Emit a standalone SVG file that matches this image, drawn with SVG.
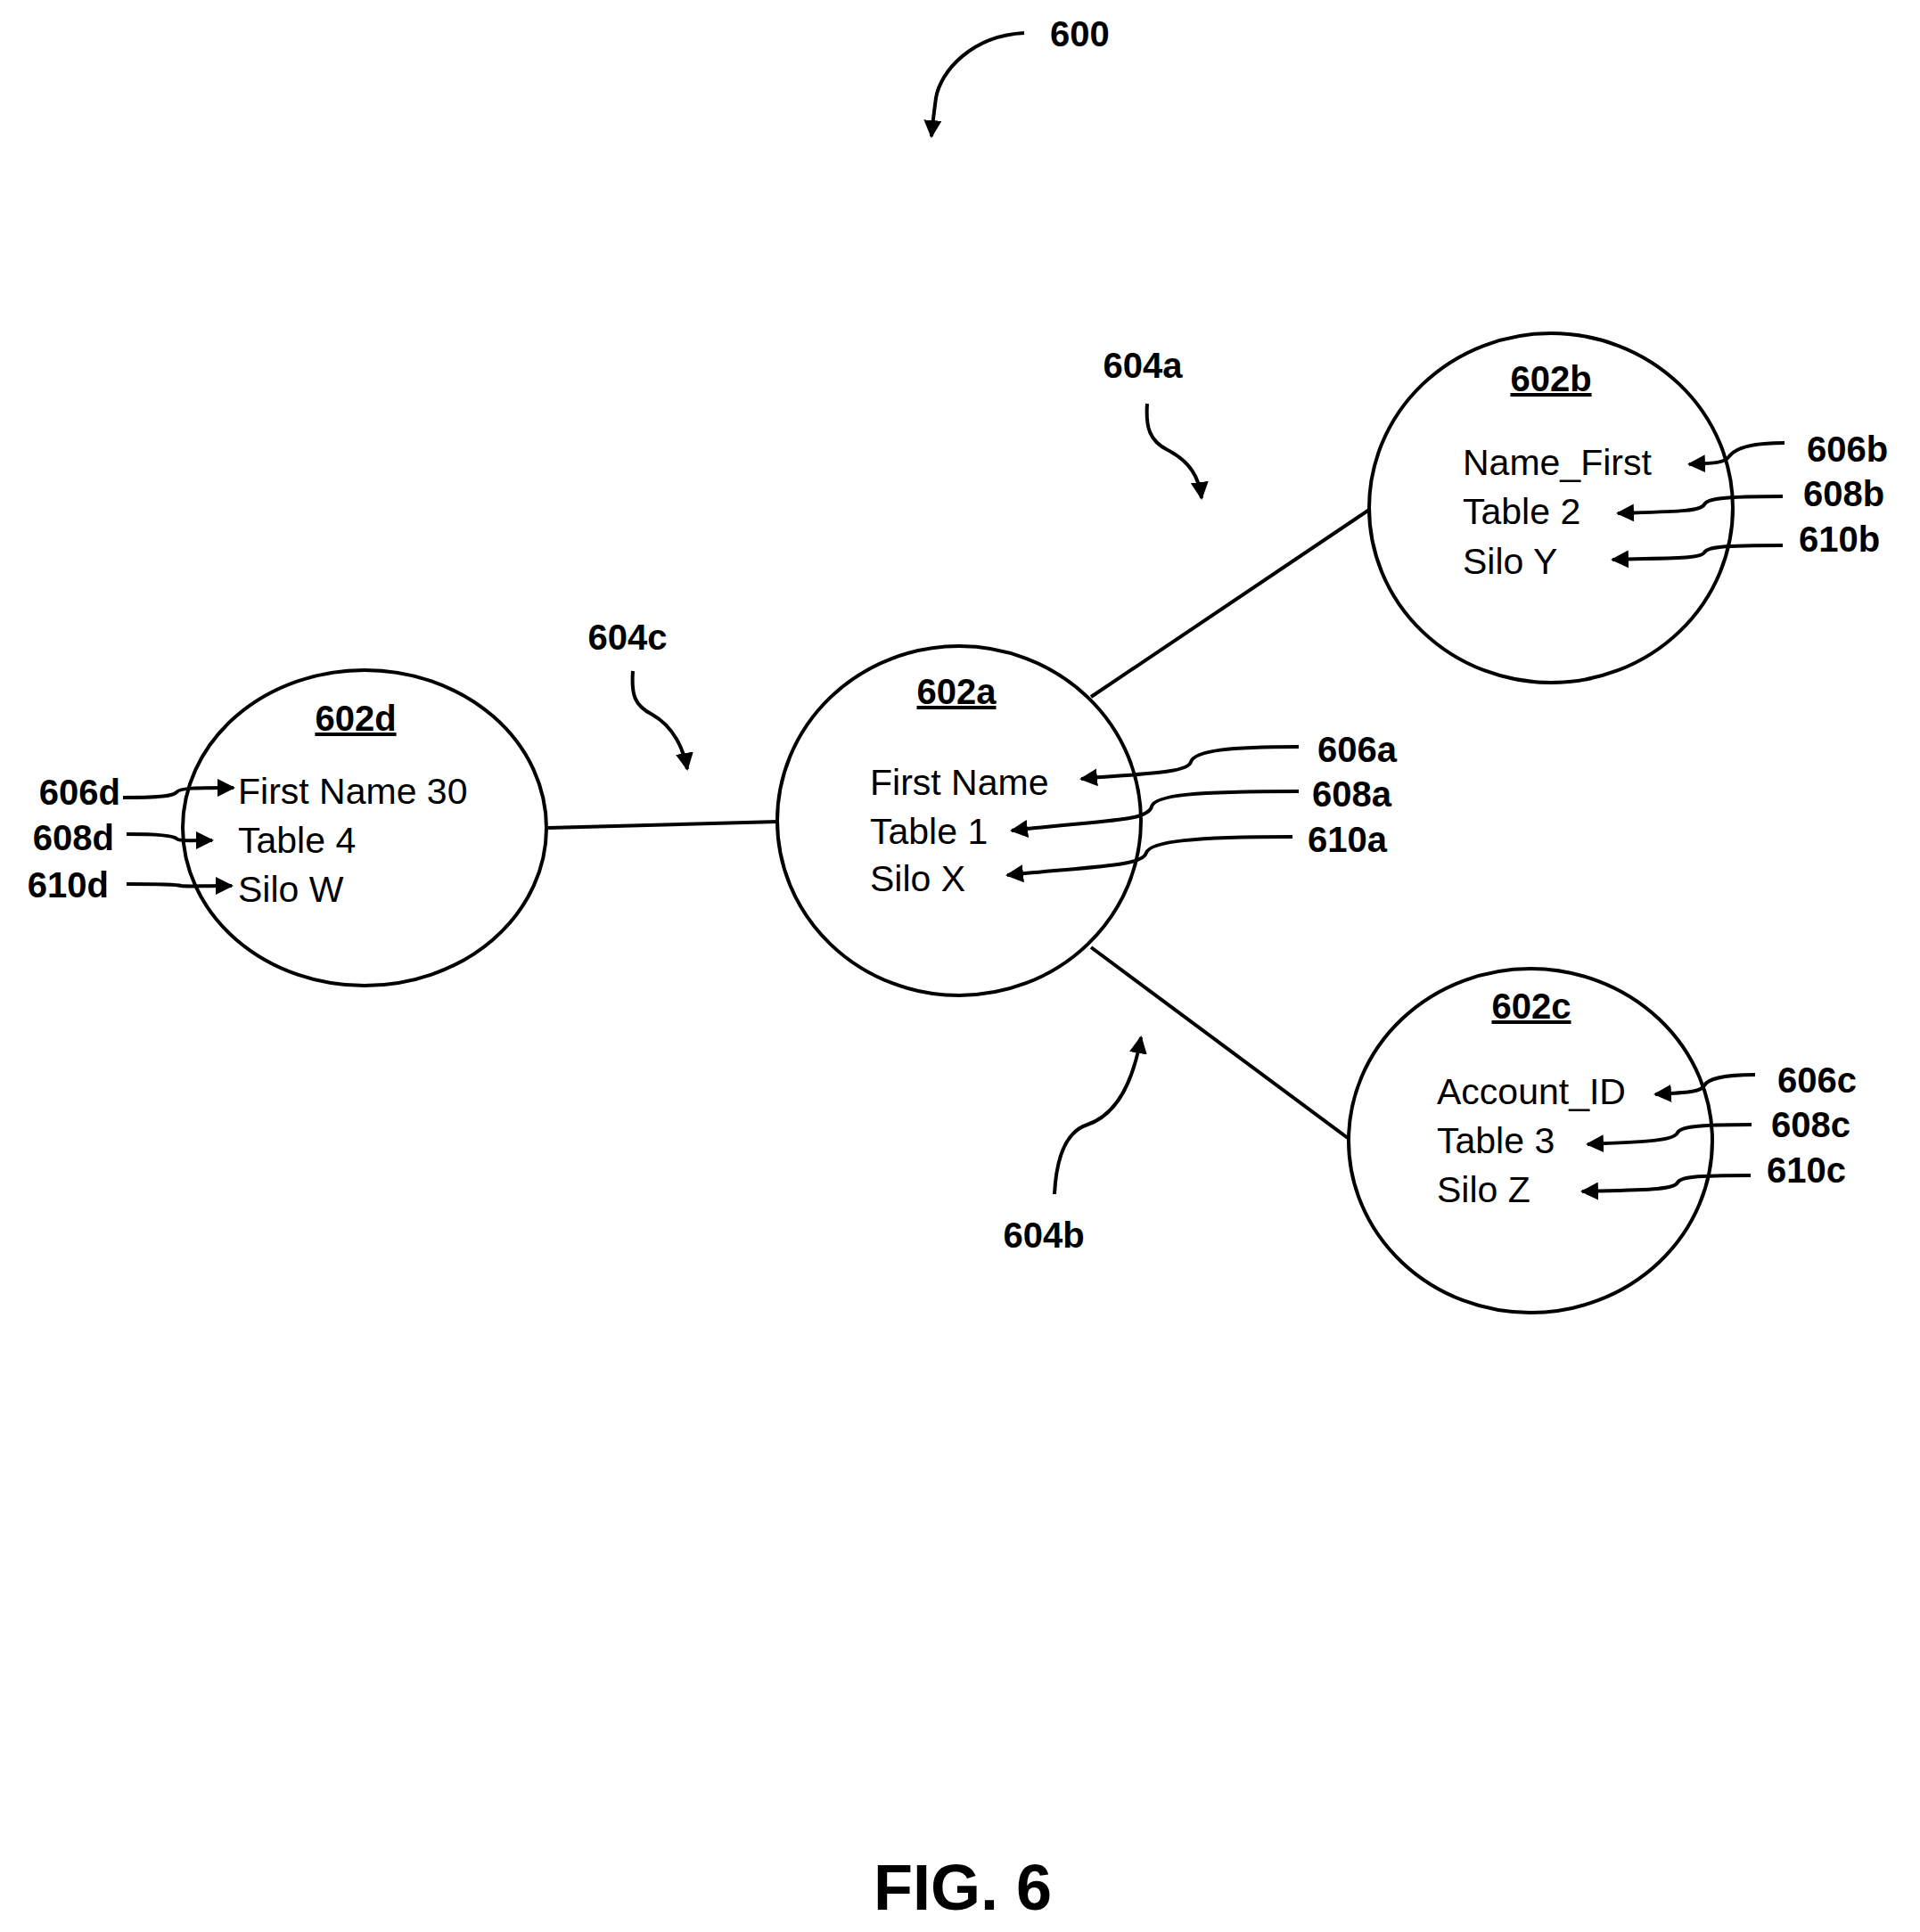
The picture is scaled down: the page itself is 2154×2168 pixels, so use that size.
<svg xmlns="http://www.w3.org/2000/svg" width="2154" height="2168" viewBox="0 0 2154 2168">
<style>
.n{fill:none;stroke:#000;stroke-width:4}
.t{font-family:"Liberation Sans",Arial,sans-serif;font-size:41px;fill:#000}
.h{font-family:"Liberation Sans",Arial,sans-serif;font-size:40px;font-weight:bold;fill:#000;text-decoration:underline;text-anchor:middle}
.l{font-family:"Liberation Sans",Arial,sans-serif;font-size:40px;font-weight:bold;fill:#000}
.a{fill:none;stroke:#000;stroke-width:4;marker-end:url(#ah)}
</style>
<defs><marker id="ah" viewBox="0 0 10 10" refX="9" refY="5" markerWidth="5" markerHeight="5" orient="auto" markerUnits="strokeWidth"><path d="M0,0L10,5L0,10z" fill="#000"/></marker></defs>
<rect width="2154" height="2168" fill="#fff"/>
<g id="connectors">
<line class="n" x1="615" y1="929" x2="873" y2="922"/>
<line class="n" x1="1224" y1="782" x2="1536" y2="572"/>
<line class="n" x1="1224" y1="1063" x2="1512" y2="1277"/>
</g>
<g id="n602a"><ellipse class="n" cx="1076" cy="921" rx="204" ry="196"/>
<text class="h" x="1073" y="790">602a</text>
<text class="t" x="976" y="892">First Name</text><text class="t" x="976" y="947">Table 1</text><text class="t" x="976" y="1000">Silo X</text></g>
<g id="n602b"><ellipse class="n" cx="1740" cy="570" rx="204" ry="196"/>
<text class="h" x="1740" y="439">602b</text>
<text class="t" x="1641" y="533">Name_First</text><text class="t" x="1641" y="588">Table 2</text><text class="t" x="1641" y="644">Silo Y</text></g>
<g id="n602c"><ellipse class="n" cx="1717" cy="1280" rx="204" ry="193"/>
<text class="h" x="1718" y="1143">602c</text>
<text class="t" x="1612" y="1239">Account_ID</text><text class="t" x="1612" y="1294">Table 3</text><text class="t" x="1612" y="1349">Silo Z</text></g>
<g id="n602d"><ellipse class="n" cx="409" cy="929" rx="204" ry="177"/>
<text class="h" x="399" y="820">602d</text>
<text class="t" x="267" y="902">First Name 30</text><text class="t" x="267" y="957">Table 4</text><text class="t" x="267" y="1012">Silo W</text></g>
<g id="refs">
<path class="a" d="M1457,838 C1380,838 1340,842 1336,855 C1332,868 1280,868 1213,874"/>
<path class="a" d="M1457,888 C1340,888 1296,892 1292,905 C1288,922 1240,920 1135,932"/>
<path class="a" d="M1450,939 C1340,939 1290,944 1286,957 C1282,972 1230,972 1130,982"/>
<path class="a" d="M2002,497 C1960,497 1945,505 1940,512 C1935,520 1920,520 1895,521"/>
<path class="a" d="M2000,557 C1930,557 1915,560 1912,566 C1908,574 1880,574 1815,576"/>
<path class="a" d="M2000,612 C1930,612 1915,614 1912,620 C1908,627 1880,626 1809,628"/>
<path class="a" d="M1969,1206 C1930,1206 1915,1212 1912,1218 C1908,1226 1890,1226 1857,1228"/>
<path class="a" d="M1965,1262 C1900,1262 1885,1265 1882,1271 C1878,1280 1850,1281 1781,1284"/>
<path class="a" d="M1964,1319 C1900,1319 1885,1321 1882,1327 C1878,1335 1850,1335 1775,1337"/>
<path class="a" d="M138,895 C180,895 195,893 198,889 C202,884 220,884 262,884"/>
<path class="a" d="M142,936 C180,936 195,938 198,941 C200,944 215,943 238,943"/>
<path class="a" d="M142,992 C185,992 200,993 203,994 C210,995 225,994 260,994"/>
<path class="a" d="M1287,453 C1285,480 1290,495 1310,505 C1335,518 1345,535 1348,559"/>
<path class="a" d="M710,753 C708,780 712,792 732,802 C755,815 767,840 771,863"/>
<path class="a" d="M1183,1340 C1185,1300 1195,1270 1220,1262 C1255,1250 1272,1210 1280,1164"/>
<path class="a" d="M1149,37 C1090,40 1055,80 1050,110 C1048,125 1046,140 1045,153"/>
<text class="l" x="1478" y="855">606a</text><text class="l" x="1472" y="905">608a</text><text class="l" x="1467" y="956">610a</text>
<text class="l" x="2027" y="518">606b</text><text class="l" x="2023" y="568">608b</text><text class="l" x="2018" y="619">610b</text>
<text class="l" x="1994" y="1226">606c</text><text class="l" x="1987" y="1276">608c</text><text class="l" x="1982" y="1327">610c</text>
<text class="l" x="135" y="903" text-anchor="end">606d</text><text class="l" x="128" y="954" text-anchor="end">608d</text><text class="l" x="122" y="1007" text-anchor="end">610d</text>
<text class="l" x="1282" y="424" text-anchor="middle">604a</text>
<text class="l" x="704" y="729" text-anchor="middle">604c</text>
<text class="l" x="1171" y="1400" text-anchor="middle">604b</text>
<text class="l" x="1178" y="52">600</text>
</g>
<text x="1080" y="2143" text-anchor="middle" font-family="Liberation Sans,Arial,sans-serif" font-size="72" font-weight="bold">FIG. 6</text>
</svg>
